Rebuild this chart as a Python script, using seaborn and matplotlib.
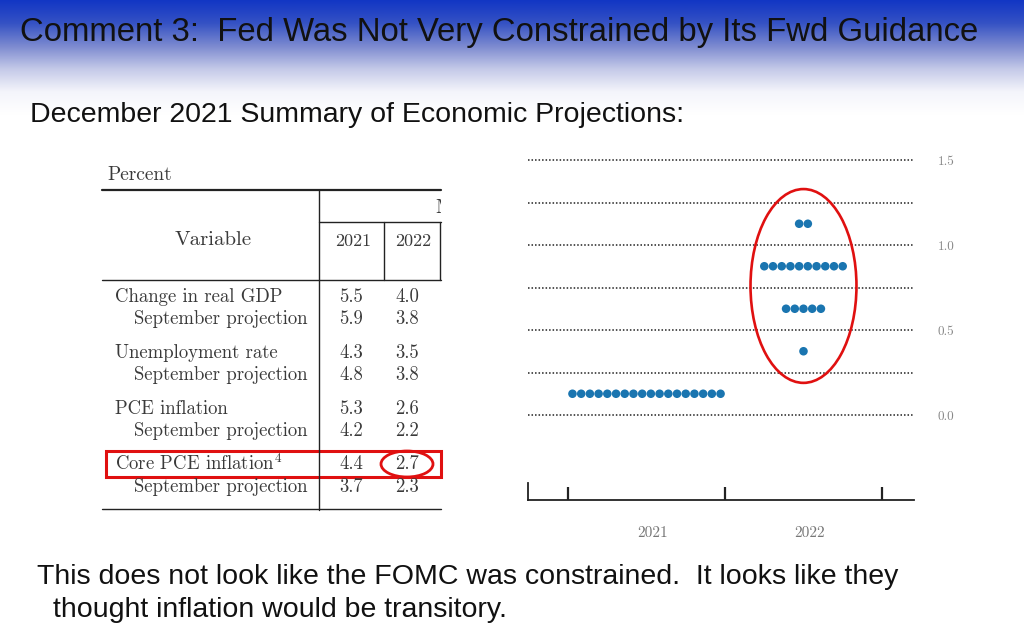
import numpy as np
import pandas as pd
import matplotlib
matplotlib.use("Agg")
import matplotlib.pyplot as plt
import seaborn as sns
from matplotlib.patches import Ellipse, Rectangle
from matplotlib.colors import LinearSegmentedColormap

# %% data
years = ["2021", "2022"]
rate_levels = [0.125, 0.375, 0.625, 0.875, 1.125]
counts_2021 = [18, 0, 0, 0, 0]
counts_2022 = [0, 1, 5, 10, 2]

row_labels = ["Change in real GDP", "September projection",
              "Unemployment rate", "September projection",
              "PCE inflation", "September projection",
              r"Core PCE inflation$^4$", "September projection"]
vals_2021 = ["5.5", "5.9", "4.3", "4.8", "5.3", "4.2", "4.4", "3.7"]
vals_2022 = ["4.0", "3.8", "3.5", "3.8", "2.6", "2.2", "2.7", "2.3"]

title = "Comment 3:  Fed Was Not Very Constrained by Its Fwd Guidance"
subtitle = "December 2021 Summary of Economic Projections:"
note_1 = "This does not look like the FOMC was constrained.  It looks like they"
note_2 = "thought inflation would be transitory."

# dot positions: dots side by side around the year center
rows = []
for i, cnts in enumerate([counts_2021, counts_2022]):
    for lev, n in zip(rate_levels, cnts):
        for k in range(n):
            rows.append({"x": i + (k - (n - 1) / 2) * 0.0555, "rate": lev})
dots = pd.DataFrame(rows)

sns.set_theme(style="white")
plt.rcParams["mathtext.fontset"] = "cm"

fig = plt.figure(figsize=(10.24, 6.4), dpi=100)

# %% slide background (pixel coords)
bg = fig.add_axes([0, 0, 1, 1])
bg.set_xlim(0, 1024)
bg.set_ylim(640, 0)
bg.axis("off")
cmap = LinearSegmentedColormap.from_list(
    "hdr", ["#1236c4", "#3552c4", "#7c8ad0", "#c4c9e8", "#f4f5fb", "#ffffff"])
grad = np.linspace(0, 1, 200).reshape(-1, 1)
bg.imshow(grad, cmap=cmap, extent=[0, 1024, 115, 0], aspect="auto", zorder=0)

sans = ["Liberation Sans", "DejaVu Sans"]
bg.text(20, 33, title, fontsize=23.7, family=sans, va="center", ha="left", color="#111111")
bg.text(30, 115, subtitle, fontsize=20.5, family=sans, va="center", ha="left", color="#111111")
bg.text(37, 577, note_1, fontsize=20.5, family=sans, va="center", ha="left", color="#111111")
bg.text(53, 610, note_2, fontsize=20.5, family=sans, va="center", ha="left", color="#111111")

# %% table
serif = ["cmr10", "DejaVu Serif"]
tfs = 13.5
tc = "#3a3a3a"
bg.text(107, 175, "Percent", fontsize=tfs + 0.5, family=serif, va="center", color=tc)
bg.plot([102, 441], [190, 190], color="#222222", lw=1.6)
bg.plot([319, 319], [190, 510], color="#222222", lw=1.0)
bg.plot([319, 441], [222, 222], color="#222222", lw=1.0)
bg.plot([384, 384], [222, 280], color="#222222", lw=1.0)
bg.plot([440, 440], [222, 280], color="#222222", lw=1.0)
bg.plot([102, 441], [280, 280], color="#222222", lw=1.0)
bg.plot([102, 441], [509, 509], color="#222222", lw=1.0)

# table header runs off the right edge of the crop
hdr = fig.add_axes([320 / 1024, (640 - 221) / 640, 121 / 1024, 30 / 640])
hdr.set_xlim(320, 441)
hdr.set_ylim(221, 191)
hdr.axis("off")
hdr.text(435, 208, "M", fontsize=tfs, family=serif, va="center", color=tc, clip_on=True)

bg.text(213, 240, "Variable", fontsize=tfs + 1.5, family=serif, va="center", ha="center", color=tc)
bg.text(353, 241, years[0], fontsize=tfs - 0.5, family=serif, va="center", ha="center", color=tc)
bg.text(413, 241, years[1], fontsize=tfs - 0.5, family=serif, va="center", ha="center", color=tc)

row_y = [297, 319, 353, 375, 409, 431, 464, 487]
for lab, v1, v2, yy in zip(row_labels, vals_2021, vals_2022, row_y):
    xx = 134 if lab.startswith("September") else 115
    bg.text(xx, yy, lab, fontsize=tfs, family=serif, va="center", ha="left", color=tc)
    bg.text(351, yy, v1, fontsize=tfs, family=serif, va="center", ha="center", color=tc)
    bg.text(407, yy, v2, fontsize=tfs, family=serif, va="center", ha="center", color=tc)

bg.add_patch(Rectangle((106, 451), 335, 26, fill=False, ec="#e01010", lw=2.2))
bg.add_patch(Ellipse((407, 464), 52, 26, fill=False, ec="#e01010", lw=2.0))

# %% dot plot
ax = fig.add_axes([528 / 1024, (640 - 500) / 640, 386 / 1024, (500 - 156.6) / 640])
ax.patch.set_alpha(0)
sns.scatterplot(data=dots, x="x", y="rate", ax=ax, color="#1a75b0",
                s=38, edgecolor="none", legend=False, zorder=3)
ax.set_xlim(-0.755, 1.704)
ax.set_ylim(-0.5, 1.52)

for lev in np.arange(0, 1.51, 0.25):
    ax.axhline(lev, color="#222222", lw=1.1, ls=(0, (1, 1.3)), zorder=1)

ax.set_xticks([-0.5, 0.5, 1.5])
ax.set_xticklabels([])
ax.set_xticks([0.04, 1.04], minor=True)
ax.set_xticklabels(years, minor=True, fontsize=11, family=serif, color="#777777")
ax.tick_params(axis="x", which="major", direction="in", length=9.5, width=1.6,
               color="#222222", bottom=True)
ax.tick_params(axis="x", which="minor", length=0, pad=19)

ax.yaxis.tick_right()
ax.set_yticks([0, 0.5, 1.0, 1.5])
ax.set_yticklabels(["0.0", "0.5", "1.0", "1.5"], fontsize=9.5, family=serif, color="#888888")
ax.tick_params(axis="y", length=0, pad=17)
ax.set_xlabel("")
ax.set_ylabel("")

for s in ["top", "right"]:
    ax.spines[s].set_visible(False)
ax.spines["bottom"].set_color("#222222")
ax.spines["bottom"].set_linewidth(1.3)
ax.spines["left"].set_color("#222222")
ax.spines["left"].set_linewidth(1.3)
ax.spines["left"].set_bounds(-0.5, -0.4)

ax.add_patch(Ellipse((1.0, 0.759), 0.675, 1.14, fill=False, ec="#e01010", lw=1.9, zorder=4))

fig.savefig("out.png", dpi=100)
